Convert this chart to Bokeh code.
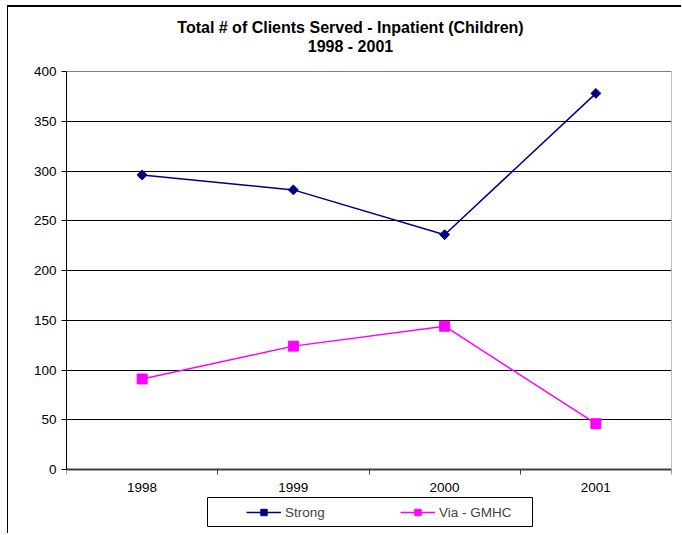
from bokeh.plotting import figure
from bokeh.models import FixedTicker, Range1d, Label, Legend, LegendItem, BoxAnnotation
from bokeh.embed import file_html
from bokeh.resources import INLINE

years = ["1998", "1999", "2000", "2001"]
strong = [296, 281, 236, 378]
via_gmhc = [91, 124, 144, 46]
y_ticks = [0, 50, 100, 150, 200, 250, 300, 350, 400]
title_lines = ["Total # of Clients Served - Inpatient (Children)", "1998 - 2001"]

FONT = "Liberation Sans"
FS = "13.5px"
xs = [i + 0.5 for i in range(len(years))]
y_max = y_ticks[-1]

# page-pixel layout helpers (plot area: x 66..671, y 71 (=400) .. 469 (=0))
X0, XW = 66, 605 / len(years)
Y0, YS = 469, 398 / y_max


def px_x(px):
    return (px - X0) / XW


def px_y(py):
    return (Y0 - py) / YS


# The plotting frame covers the whole chart box so that titles, tick labels and
# legend (all inside the frame) are never clipped; the plot area is 0..400.
p = figure(width=674, height=528, output_backend="svg", toolbar_location=None,
           x_range=Range1d(0, len(years)), y_range=Range1d(px_y(535), px_y(7)),
           min_border_left=58, min_border_top=0, min_border_right=11, min_border_bottom=0)
p.title = None
p.styles = {"margin-left": "7px", "margin-top": "5px",
            "border-left": "1px solid #000", "border-top": "2px solid #000"}
p.background_fill_color = "white"
p.border_fill_color = "white"
p.outline_line_color = None

# plot-area border
p.add_layout(BoxAnnotation(left=0, right=len(years), bottom=0, top=y_max,
                           fill_color=None, line_color="#808080", line_alpha=1, line_width=1,
                           level="underlay"))

# y axis
p.yaxis.ticker = FixedTicker(ticks=y_ticks, minor_ticks=[])
p.yaxis.bounds = (0, y_max)
p.yaxis.axis_line_color = "black"
p.yaxis.major_tick_line_color = "black"
p.yaxis.major_tick_out = 5
p.yaxis.major_tick_in = 0
p.yaxis.minor_tick_line_color = None
p.yaxis.major_label_text_font = FONT
p.yaxis.major_label_text_font_size = FS
p.yaxis.major_label_text_color = "black"
p.yaxis.major_label_standoff = 5

# x axis at y = 0: labels at category centres, ticks at category boundaries
p.xaxis.fixed_location = 0
p.xaxis.ticker = FixedTicker(ticks=xs, minor_ticks=list(range(len(years) + 1)))
p.xaxis.major_label_overrides = {x: y for x, y in zip(xs, years)}
p.xaxis.major_tick_line_color = None
p.xaxis.major_tick_out = 5
p.xaxis.major_tick_in = 0
p.xaxis.minor_tick_line_color = "#404040"
p.xaxis.minor_tick_out = 5
p.xaxis.minor_tick_in = 0
p.xaxis.axis_line_color = "#404040"
p.xaxis.axis_line_width = 2
p.xaxis.major_label_text_font = FONT
p.xaxis.major_label_text_font_size = FS
p.xaxis.major_label_text_color = "black"
p.xaxis.major_label_standoff = 8

p.xgrid.grid_line_color = None
p.ygrid.ticker = FixedTicker(ticks=y_ticks[1:-1])
p.ygrid.grid_line_color = "black"
p.ygrid.grid_line_width = 1

l1 = p.line(xs, strong, line_color="#000080", line_width=1.5)
m1 = p.scatter(xs, strong, marker="square", angle=45, angle_units="deg", size=7,
               fill_color="#000080", line_color="#000080")
l2 = p.line(xs, via_gmhc, line_color="#FF00FF", line_width=1.5)
m2 = p.scatter(xs, via_gmhc, marker="square", size=10, fill_color="#FF00FF", line_color="#FF00FF")

# legend box
p.add_layout(BoxAnnotation(left=px_x(207), right=px_x(532), top=px_y(497), bottom=px_y(526),
                           fill_color="white", fill_alpha=1, line_color="black",
                           line_alpha=1, line_width=1))

legend = Legend(items=[LegendItem(label="Strong", renderers=[l1, m1]),
                       LegendItem(label="Via - GMHC", renderers=[l2, m2])],
                orientation="horizontal", location=(240 - X0, 535 - 526),
                padding=6, margin=0, spacing=75, glyph_width=35, glyph_height=16,
                label_standoff=4, label_width=40,
                label_text_font=FONT, label_text_font_size=FS,
                border_line_alpha=0, background_fill_alpha=0)
p.add_layout(legend, "center")

for txt, py in zip(title_lines, [27, 46]):
    p.add_layout(Label(x=px_x(350), y=px_y(py), text=txt,
                       text_align="center", text_baseline="middle",
                       text_font=FONT, text_font_size="16px", text_font_style="bold",
                       text_color="black"))

open("out.html", "w").write(file_html(p, INLINE))
